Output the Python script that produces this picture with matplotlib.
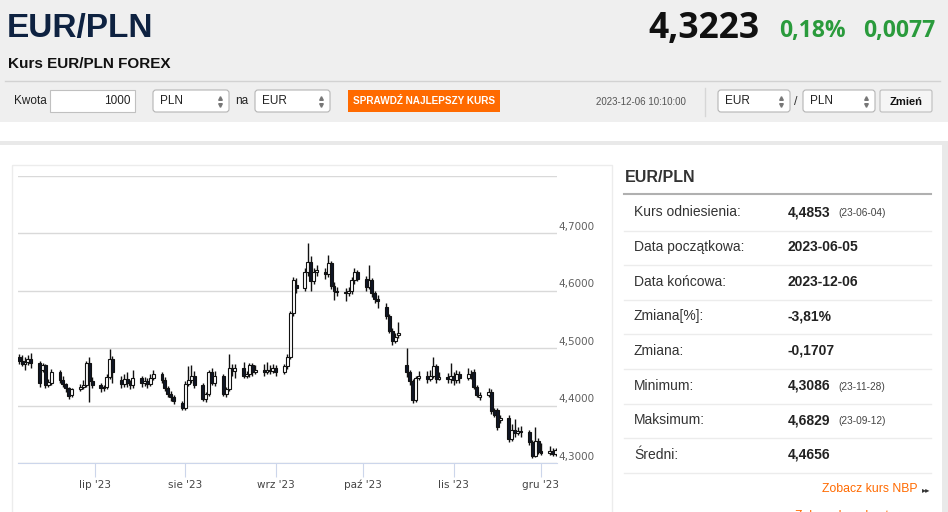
import matplotlib
matplotlib.use('Agg')
import matplotlib.pyplot as plt
import matplotlib.dates as mdates
from matplotlib.patches import Rectangle, FancyBboxPatch
import pandas as pd
import numpy as np

plt.rcParams['font.family'] = ['Liberation Sans', 'DejaVu Sans']

# Dane - swiece dzienne EUR/PLN (dni robocze 2023-06-05 .. 2023-12-06)
dni = pd.bdate_range('2023-06-05', '2023-12-06')

otwarcie = [4.485, 4.478, 4.472, 4.476, 4.481, 4.474, 4.462, 4.470, 4.435, 4.440,
            4.458, 4.445, 4.438, 4.430, 4.418, 4.428, 4.432, 4.436, 4.474, 4.442,
            4.436, 4.430, 4.432, 4.450, 4.480, 4.445, 4.438, 4.446, 4.440, 4.436,
            4.447, 4.440, 4.443, 4.438, 4.448, 4.455, 4.444, 4.430, 4.420, 4.414,
            4.404, 4.396, 4.438, 4.444, 4.452, 4.436, 4.412, 4.420, 4.458, 4.440,
            4.452, 4.420, 4.428, 4.466, 4.460, 4.465, 4.452, 4.455, 4.470, 4.458,
            4.462, 4.458, 4.462, 4.460, 4.465, 4.458, 4.468, 4.484, 4.561, 4.610,
            4.604, 4.632, 4.650, 4.616, 4.632, 4.632, 4.628, 4.648, 4.608, 4.600,
            4.598, 4.596, 4.600, 4.618, 4.632, 4.620, 4.606, 4.618, 4.596, 4.586,
            4.572, 4.556, 4.530, 4.512, 4.522, 4.470, 4.458, 4.442, 4.410, 4.448,
            4.452, 4.446, 4.452, 4.468, 4.446, 4.450, 4.446, 4.452, 4.444, 4.454,
            4.448, 4.455, 4.458, 4.432, 4.414, 4.418, 4.424, 4.392, 4.392, 4.374,
            4.378, 4.342, 4.358, 4.352, 4.356, 4.354, 4.336, 4.312, 4.338, 4.320,
            4.318, 4.320, 4.316]
maks = [4.490, 4.488, 4.484, 4.487, 4.492, 4.478, 4.474, 4.473, 4.446, 4.464,
        4.462, 4.452, 4.440, 4.433, 4.431, 4.437, 4.445, 4.478, 4.484, 4.450,
        4.440, 4.436, 4.455, 4.498, 4.486, 4.452, 4.455, 4.458, 4.444, 4.462,
        4.452, 4.450, 4.448, 4.455, 4.462, 4.458, 4.450, 4.434, 4.425, 4.418,
        4.408, 4.442, 4.468, 4.470, 4.460, 4.440, 4.424, 4.462, 4.466, 4.460,
        4.455, 4.432, 4.490, 4.472, 4.472, 4.476, 4.460, 4.474, 4.474, 4.470,
        4.472, 4.475, 4.470, 4.472, 4.470, 4.472, 4.490, 4.565, 4.624, 4.622,
        4.640, 4.683, 4.660, 4.640, 4.644, 4.640, 4.662, 4.652, 4.614, 4.606,
        4.604, 4.606, 4.624, 4.640, 4.636, 4.626, 4.645, 4.622, 4.600, 4.592,
        4.578, 4.560, 4.534, 4.526, 4.545, 4.500, 4.462, 4.446, 4.452, 4.460,
        4.460, 4.462, 4.484, 4.472, 4.458, 4.456, 4.474, 4.458, 4.462, 4.460,
        4.466, 4.462, 4.464, 4.436, 4.424, 4.430, 4.428, 4.396, 4.396, 4.384,
        4.384, 4.368, 4.376, 4.362, 4.364, 4.358, 4.340, 4.362, 4.344, 4.334,
        4.330, 4.326, 4.326]
minimum = [4.472, 4.468, 4.462, 4.470, 4.466, 4.433, 4.458, 4.430, 4.432, 4.436,
           4.440, 4.432, 4.424, 4.412, 4.414, 4.425, 4.428, 4.432, 4.406, 4.430,
           4.424, 4.426, 4.428, 4.446, 4.440, 4.430, 4.433, 4.432, 4.428, 4.430,
           4.432, 4.434, 4.430, 4.434, 4.444, 4.440, 4.426, 4.415, 4.408, 4.403,
           4.392, 4.393, 4.434, 4.440, 4.430, 4.408, 4.406, 4.416, 4.436, 4.434,
           4.416, 4.415, 4.425, 4.452, 4.448, 4.448, 4.447, 4.450, 4.452, 4.455,
           4.452, 4.455, 4.455, 4.456, 4.452, 4.454, 4.464, 4.480, 4.556, 4.596,
           4.600, 4.626, 4.600, 4.612, 4.626, 4.620, 4.624, 4.602, 4.584, 4.590,
           4.582, 4.590, 4.594, 4.612, 4.616, 4.600, 4.602, 4.588, 4.578, 4.570,
           4.550, 4.526, 4.506, 4.508, 4.518, 4.450, 4.436, 4.404, 4.406, 4.444,
           4.440, 4.442, 4.448, 4.440, 4.444, 4.440, 4.440, 4.436, 4.440, 4.440,
           4.444, 4.446, 4.428, 4.414, 4.410, 4.414, 4.386, 4.380, 4.358, 4.370,
           4.336, 4.338, 4.346, 4.348, 4.346, 4.332, 4.3086, 4.310, 4.316, 4.314,
           4.314, 4.312, 4.312]
zamkniecie = [4.478, 4.472, 4.476, 4.481, 4.474, 4.440, 4.470, 4.435, 4.440, 4.458,
              4.445, 4.438, 4.430, 4.417, 4.428, 4.432, 4.436, 4.474, 4.442, 4.436,
              4.430, 4.432, 4.450, 4.480, 4.458, 4.438, 4.446, 4.440, 4.436, 4.447,
              4.440, 4.443, 4.438, 4.448, 4.455, 4.444, 4.430, 4.420, 4.414, 4.408,
              4.396, 4.438, 4.444, 4.452, 4.436, 4.412, 4.420, 4.458, 4.440, 4.452,
              4.420, 4.428, 4.466, 4.460, 4.465, 4.452, 4.455, 4.470, 4.458, 4.462,
              4.458, 4.462, 4.460, 4.465, 4.458, 4.468, 4.484, 4.561, 4.618, 4.604,
              4.632, 4.650, 4.616, 4.632, 4.636, 4.628, 4.648, 4.608, 4.600, 4.598,
              4.596, 4.600, 4.618, 4.632, 4.620, 4.606, 4.618, 4.596, 4.586, 4.582,
              4.556, 4.530, 4.512, 4.520, 4.526, 4.458, 4.442, 4.410, 4.448, 4.452,
              4.446, 4.452, 4.468, 4.446, 4.450, 4.446, 4.452, 4.444, 4.454, 4.448,
              4.455, 4.452, 4.432, 4.418, 4.418, 4.424, 4.390, 4.384, 4.362, 4.378,
              4.342, 4.358, 4.352, 4.356, 4.354, 4.336, 4.312, 4.338, 4.320, 4.318,
              4.320, 4.316, 4.3223]

poziomy = [4.3, 4.4, 4.5, 4.6, 4.7, 4.8]
miesiace = ['lip', 'sie', 'wrz', 'paź', 'lis', 'gru']
poczatki = pd.date_range('2023-07-01', '2023-12-01', freq='MS')

# Tabela po prawej
etykiety = ['Kurs odniesienia:', 'Data początkowa:', 'Data końcowa:', 'Zmiana[%]:',
            'Zmiana:', 'Minimum:', 'Maksimum:', 'Średni:']
wartosci = ['4,4853', '2023-06-05', '2023-12-06', '-3,81%', '-0,1707', '4,3086',
            '4,6829', '4,4656']
daty = ['(23-06-04)', '', '', '', '', '(23-11-28)', '(23-09-12)', '']

fig = plt.figure(figsize=(9.48, 5.12), dpi=100)
fig.patch.set_facecolor('white')

# Warstwa tla w pikselach
bg = fig.add_axes([0, 0, 1, 1])
bg.set_xlim(0, 948)
bg.set_ylim(512, 0)
bg.axis('off')


def prostokat(x0, y0, x1, y1, fc, ec='none', lw=1, r=0, z=1):
    if r:
        p = FancyBboxPatch((x0, y0), x1 - x0, y1 - y0,
                           boxstyle=f'round,pad=0,rounding_size={r}',
                           fc=fc, ec=ec, lw=lw, zorder=z)
    else:
        p = Rectangle((x0, y0), x1 - x0, y1 - y0, fc=fc, ec=ec, lw=lw, zorder=z)
    bg.add_patch(p)


def lista(x0, x1, tekst):
    prostokat(x0, 90, x1, 112, 'white', '#b5b5b5', 0.8, r=3, z=2)
    bg.text(x0 + 7, 101.5, tekst, fontsize=8.5, color='#222', va='center', zorder=3)
    bg.plot([x1 - 9], [98], marker='^', ms=2.6, color='#777', zorder=3)
    bg.plot([x1 - 9], [105], marker='v', ms=2.6, color='#777', zorder=3)


# Naglowek
prostokat(0, 0, 948, 122, '#efefef')
bg.text(7, 28, 'EUR/PLN', fontsize=24, fontweight='bold', color='#0e2241', va='center')
bg.text(8, 64, 'Kurs EUR/PLN FOREX', fontsize=11, fontweight='bold', color='#111',
        va='center')
bg.text(760, 29, '4,3223', fontsize=25.5, fontweight='bold', color='#111', va='center',
        ha='right', family=['Open Sans', 'DejaVu Sans'])
bg.text(846, 31, '0,18%', fontsize=16.5, fontweight='bold', color='#2a9b3c', va='center',
        ha='right', family=['Open Sans', 'DejaVu Sans'])
bg.text(935, 31, '0,0077', fontsize=16.5, fontweight='bold', color='#2a9b3c', va='center',
        ha='right', family=['Open Sans', 'DejaVu Sans'])
bg.plot([5, 940], [81, 81], color='#d2d2d2', lw=1)

# Pasek przelicznika
bg.text(14, 101.5, 'Kwota', fontsize=8.5, color='#222', va='center')
prostokat(50, 90, 135, 112, 'white', '#c0c0c0', 0.8, z=2)
bg.text(131, 101.5, '1000', fontsize=8.5, color='#222', va='center', ha='right', zorder=3)
lista(153, 229, 'PLN')
bg.text(235, 101.5, 'na', fontsize=8.5, color='#222', va='center')
lista(255, 330, 'EUR')
prostokat(348, 90, 500, 112, '#ff6a00', z=2)
bg.text(424, 101.5, 'SPRAWDŹ NAJLEPSZY KURS', fontsize=7.2, fontweight='bold',
        color='white', va='center', ha='center', zorder=3)
bg.text(596, 102, '2023-12-06 10:10:00', fontsize=7, color='#555', va='center')
bg.plot([705, 705], [88, 116], color='#d6d6d6', lw=1)
lista(718, 790, 'EUR')
bg.text(794, 102, '/', fontsize=9, color='#333', va='center')
lista(803, 875, 'PLN')
prostokat(880, 90, 932, 112, '#f5f5f5', '#bdbdbd', 0.8, r=2, z=2)
bg.text(906, 102, 'Zmień', fontsize=8, fontweight='bold', color='#111', va='center',
        ha='center', zorder=3)

# Ramki strony
prostokat(0, 141, 948, 145, '#e9e9e9')
prostokat(942, 141, 948, 512, '#e9e9e9')
prostokat(12, 165, 612, 530, 'none', '#ececec', 1)

# Panel statystyk
bg.text(625, 177, 'EUR/PLN', fontsize=11.5, fontweight='bold', color='#333', va='center')
bg.plot([624, 931], [194, 194], color='#b0b0b0', lw=1.5)
for i in range(len(etykiety)):
    yc = 212.5 + i * 34.6
    bg.text(634, yc, etykiety[i], fontsize=10, color='#333', va='center')
    bg.text(788, yc, wartosci[i], fontsize=10, fontweight='bold', color='#222',
            va='center')
    if daty[i]:
        bg.text(838, yc + 1, daty[i], fontsize=7.3, color='#444', va='center')
    bg.plot([624, 931], [yc + 18, yc + 18], color='#ececec', lw=1)
bg.text(918, 489, 'Zobacz kurs NBP', fontsize=8.8, color='#ff6a00', va='center',
        ha='right')
bg.text(922, 490, '▸▸', fontsize=6, color='#333', va='center',
        family=['DejaVu Sans'])
bg.text(795, 516, 'Zobacz kurs kantorowy', fontsize=8.8, color='#ff6a00', va='center')

# Wykres swiecowy
ax = fig.add_axes([18 / 948, (512 - 463) / 512, (557 - 18) / 948, (463 - 175.5) / 512])
ax.set_facecolor('none')
lipiec = mdates.date2num(pd.Timestamp('2023-07-01'))
grudzien = mdates.date2num(pd.Timestamp('2023-12-01'))
ax.set_xlim(lipiec - 26.41, grudzien + 5.49)
ax.set_ylim(poziomy[0], poziomy[-1])

o = np.array(otwarcie)
c = np.array(zamkniecie)
kolory = ['white' if cc >= oo else '#0f1626' for oo, cc in zip(o, c)]
ax.vlines(dni, minimum, maks, color='#111', lw=1.0, zorder=2)
ax.bar(dni, np.maximum(np.abs(c - o), 0.0015), bottom=np.minimum(o, c), width=1.0,
       color=kolory, edgecolor='#111', linewidth=0.8, zorder=3)

ax.set_yticks(poziomy)
ax.yaxis.grid(True, color='#d9d9d9', lw=1)
ax.set_axisbelow(True)
ax.tick_params(axis='y', length=0, labelleft=False)
for v in poziomy[:-1]:
    ax.text(1.003, v + 0.002, f'{v:.4f}'.replace('.', ','), transform=ax.get_yaxis_transform(),
            fontsize=7.5, color='#606060', va='bottom', ha='left', family=['DejaVu Sans'])

ax.set_xticks(poczatki)
ax.set_xticklabels([m + " '23" for m in miesiace], family=['DejaVu Sans'])
ax.tick_params(axis='x', direction='out', length=10, color='#ccd6eb', labelcolor='#444',
               labelsize=7.5, pad=2)
for s in ['top', 'left', 'right']:
    ax.spines[s].set_visible(False)
ax.spines['bottom'].set_color('#ccd6eb')

fig.savefig('out.png', dpi=100, facecolor='white')
